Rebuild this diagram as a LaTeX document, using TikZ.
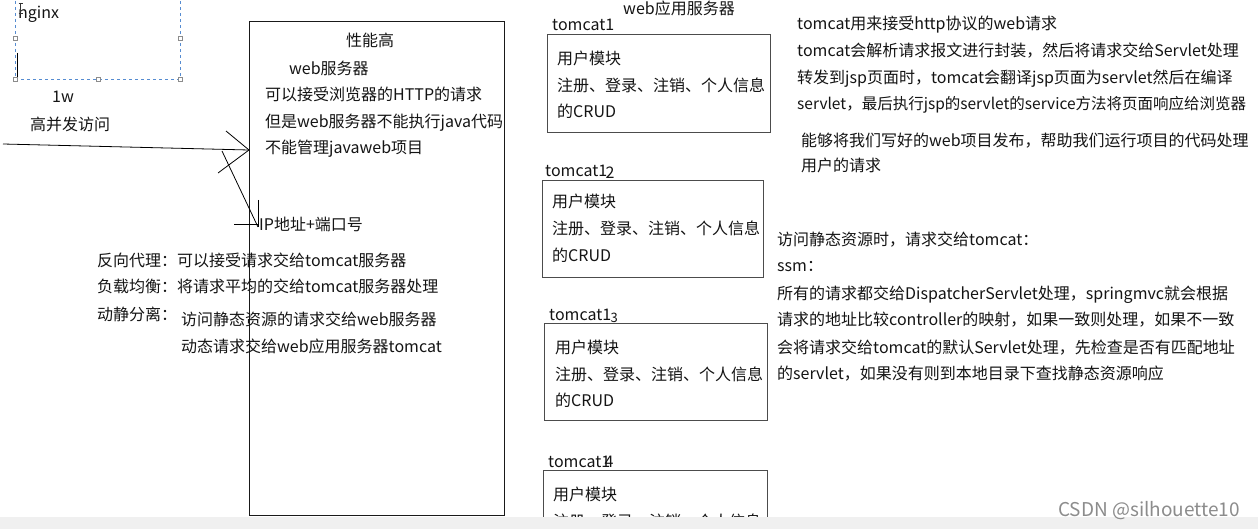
\documentclass[tikz,border=0pt]{standalone}
\usepackage{fontspec}
\setmainfont{Noto Sans CJK SC}
\begin{document}
\begin{tikzpicture}[x=1pt,y=-1pt,
  txt/.style={font=\fontsize{16}{19}\selectfont, text=black!92, inner sep=0pt, anchor=west, text height=13pt, text depth=3pt},
  tbox/.style={draw=black!70, line width=1.1pt, anchor=north west, inner sep=0pt},
  bigbox/.style={draw=black!90, line width=1.1pt, anchor=north west, inner sep=0pt},
  handle/.style={draw=black!45, fill=white, line width=0.5pt, minimum size=4pt, inner sep=0pt},
  pen/.style={draw=black, line width=0.8pt}]
\useasboundingbox (0,0) rectangle (1258,529);
\fill[white] (0,0) rectangle (1258,529);

% nginx dashed selection box
\draw[draw=cyan!50!blue!70, dashed, line width=0.8pt] (15,-5) -- (15,79) -- (180,79) -- (180,-5);
\node[handle] (h1) at (15,38) {};
\node[handle] (h2) at (180,38) {};
\node[handle] (h3) at (15,79) {};
\node[handle] (h4) at (98,79) {};
\node[handle] (h5) at (180,79) {};
\node[txt] (nginx) at (18,14) {nginx};
\draw[black!80, line width=0.6pt] (20.5,3) -- (20.5,13) (18.5,3) -- (22.5,3) (18.5,13) -- (22.5,13);
\draw[black, line width=1pt] (17,53) -- (17,77);

\node[txt] (w1) at (52,98) {1w};
\node[txt] (gbf) at (30,126) {高并发访问};

% big web server box
\node[bigbox, minimum width=255pt, minimum height=494pt] (web) at (249,21) {};
\node[txt, anchor=center] (xng) at (370,42) {性能高};
\node[txt] (wfwq) at (289,70) {web服务器};
\node[txt] (l1) at (265,96) {可以接受浏览器的HTTP的请求};
\node[txt] (l2) at (265,123) {但是web服务器不能执行java代码};
\node[txt] (l3) at (265,149) {不能管理javaweb项目};
\node[txt] (ip) at (259,226) {IP地址+端口号};

% hand drawn arrows
\coordinate (src) at (3,144);
\coordinate (tip) at (249,150);
\coordinate (ha) at (226,131);
\coordinate (hb) at (218,173);
\coordinate (ds) at (222,151);
\coordinate (dt) at (258,227);
\coordinate (va) at (258,200);
\coordinate (hh) at (234,224);
\draw[pen] (src) -- (tip);
\draw[pen] (ha) -- (tip);
\draw[pen] (hb) -- (tip);
\draw[pen] (ds) -- (dt);
\draw[pen] (va) -- (dt);
\draw[pen] (hh) -- (ip.west |- hh);

% nginx functions
\node[txt] (fx) at (97,262) {反向代理：可以接受请求交给tomcat服务器};
\node[txt] (fz) at (97,288) {负载均衡：将请求平均的交给tomcat服务器处理};
\node[txt] (dj) at (97,315) {动静分离：};
\node[txt] (dj1) at (181,321) {访问静态资源的请求交给web服务器};
\node[txt] (dj2) at (181,347) {动态请求交给web应用服务器tomcat};

% web application servers
\node[txt, anchor=center] (wyy) at (679,10) {web应用服务器};

\node[txt] (t1) at (552,26) {tomcat1};
\node[tbox, minimum width=223pt, minimum height=98pt] (b1) at (547,34) {};
\node[txt] (b1a) at (557,60) {用户模块};
\node[txt] (b1b) at (557,87) {注册、登录、注销、个人信息};
\node[txt] (b1c) at (557,113) {的CRUD};

\node[txt] (t2) at (545,172) {tomcat1};
\node[txt] (t2n) at (t2.east) [xshift=-2pt, yshift=-2pt] {2};
\node[tbox, minimum width=221pt, minimum height=97pt] (b2) at (542,180) {};
\node[txt] (b2a) at (552,203) {用户模块};
\node[txt] (b2b) at (552,230) {注册、登录、注销、个人信息};
\node[txt] (b2c) at (552,257) {的CRUD};

\node[txt] (t3) at (549,315) {tomcat1};
\node[txt, font=\fontsize{13}{15}\selectfont] (t3n) at (t3.east) [xshift=-1pt, yshift=-3pt] {3};
\node[tbox, minimum width=223pt, minimum height=97pt] (b3) at (544,323) {};
\node[txt] (b3a) at (555,348) {用户模块};
\node[txt] (b3b) at (555,375) {注册、登录、注销、个人信息};
\node[txt] (b3c) at (555,401) {的CRUD};

\node[txt] (t4) at (548,462) {tomcat1};
\node[txt] (t4n) at (t4.east) [xshift=-6pt] {4};
\node[tbox, minimum width=224pt, minimum height=100pt] (b4) at (543,470) {};
\node[txt] (b4a) at (553,495) {用户模块};
\node[txt] (b4b) at (553,522) {注册、登录、注销、个人信息};

% right explanations
\node[txt] (r1) at (797,25) {tomcat用来接受http协议的web请求};
\node[txt] (r2) at (797,52) {tomcat会解析请求报文进行封装，然后将请求交给Servlet处理};
\node[txt] (r3) at (797,79) {转发到jsp页面时，tomcat会翻译jsp页面为servlet然后在编译};
\node[txt, font=\fontsize{15.5}{19}\selectfont] (r4) at (797,105) {servlet，最后执行jsp的servlet的service方法将页面响应给浏览器};
\node[txt] (r5) at (801,142) {能够将我们写好的web项目发布，帮助我们运行项目的代码处理};
\node[txt] (r6) at (801,167) {用户的请求};

\node[txt] (s1) at (777,241) {访问静态资源时，请求交给tomcat：};
\node[txt] (s2) at (777,267) {ssm：};
\node[txt] (s3) at (777,294) {所有的请求都交给DispatcherServlet处理，springmvc就会根据};
\node[txt] (s4) at (777,321) {请求的地址比较controller的映射，如果一致则处理，如果不一致};
\node[txt] (s5) at (777,348) {会将请求交给tomcat的默认Servlet处理，先检查是否有匹配地址};
\node[txt] (s6) at (777,374) {的servlet，如果没有则到本地目录下查找静态资源响应};

% bottom bar and watermark
\fill[black!6] (0,517) rectangle (1258,529);
\node[txt, font=\fontsize{19}{22}\selectfont, text=black!45] (wm) at (1058,511) {CSDN @silhouette10};
\end{tikzpicture}
\end{document}
